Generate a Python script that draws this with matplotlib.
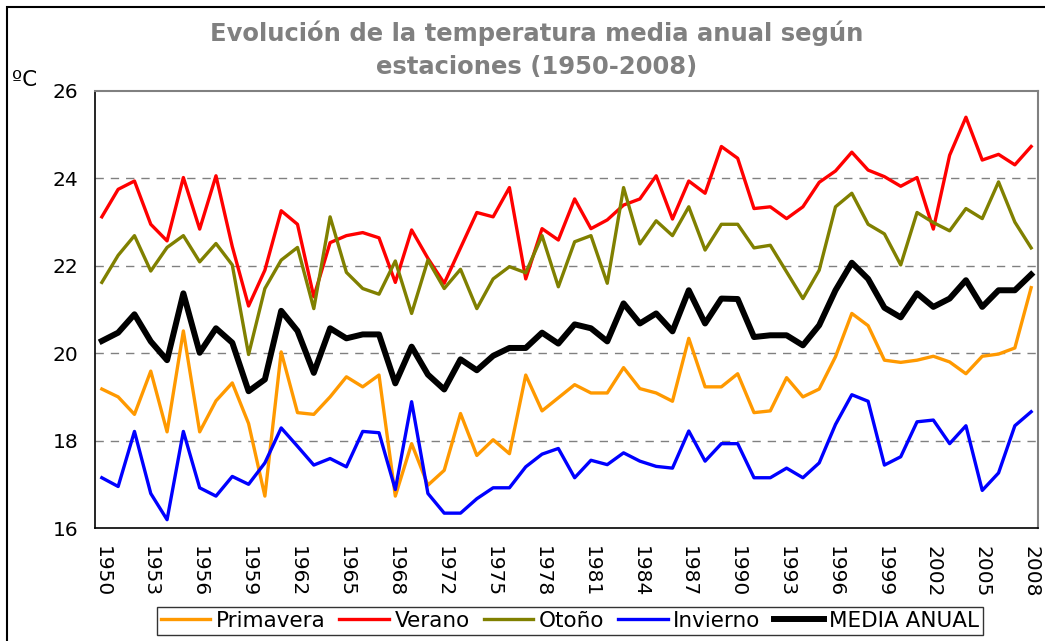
import matplotlib
matplotlib.use("Agg")
import matplotlib.pyplot as plt
from matplotlib.patches import Rectangle

# years (1971 missing in the source series -> 58 categories)
years = [y for y in range(1950, 2009) if y != 1971]

primavera = [19.18, 19.0, 18.6, 19.59, 18.2, 20.51, 18.2, 18.91, 19.32, 18.39,
             16.73, 20.03, 18.64, 18.6, 19.0, 19.46, 19.23, 19.5, 16.73,
             17.93, 16.98, 17.32, 18.62, 17.66, 18.02, 17.7, 19.5, 18.68, 18.98,
             19.28, 19.09, 19.09, 19.67, 19.19, 19.09, 18.9, 20.34, 19.23, 19.23,
             19.53, 18.64, 18.68, 19.44, 19.0, 19.18, 19.92, 20.91, 20.63, 19.84,
             19.79, 19.84, 19.93, 19.8, 19.53, 19.93, 19.98, 20.12, 21.5]
verano = [23.12, 23.75, 23.94, 22.95, 22.57, 24.02, 22.84, 24.06, 22.44, 21.08,
          21.9, 23.26, 22.95, 21.29, 22.53, 22.69, 22.76, 22.64, 21.62,
          22.82, 22.17, 21.6, 22.41, 23.22, 23.12, 23.79, 21.7, 22.85, 22.59,
          23.53, 22.85, 23.05, 23.39, 23.53, 24.06, 23.07, 23.94, 23.66, 24.73,
          24.46, 23.31, 23.35, 23.08, 23.35, 23.91, 24.17, 24.6, 24.19, 24.04,
          23.82, 24.02, 22.84, 24.53, 25.4, 24.42, 24.55, 24.31, 24.73]
otono = [21.62, 22.24, 22.69, 21.88, 22.42, 22.69, 22.09, 22.51, 22.02, 19.97,
         21.48, 22.13, 22.42, 21.02, 23.12, 21.85, 21.48, 21.35, 22.11,
         20.91, 22.13, 21.48, 21.92, 21.02, 21.7, 21.98, 21.84, 22.69, 21.52,
         22.55, 22.69, 21.6, 23.79, 22.5, 23.03, 22.69, 23.35, 22.36, 22.95,
         22.95, 22.41, 22.47, 21.86, 21.25, 21.9, 23.35, 23.66, 22.95, 22.73,
         22.02, 23.22, 22.99, 22.8, 23.31, 23.08, 23.92, 23.0, 22.41]
invierno = [17.15, 16.95, 18.21, 16.79, 16.19, 18.21, 16.92, 16.73, 17.18, 17.0,
            17.49, 18.29, 17.87, 17.44, 17.59, 17.4, 18.21, 18.18, 16.88,
            18.89, 16.79, 16.34, 16.34, 16.67, 16.92, 16.92, 17.4, 17.69, 17.82,
            17.15, 17.55, 17.45, 17.72, 17.53, 17.41, 17.37, 18.22, 17.53, 17.93,
            17.93, 17.15, 17.15, 17.37, 17.15, 17.49, 18.37, 19.05, 18.9, 17.44,
            17.63, 18.43, 18.47, 17.93, 18.34, 16.86, 17.26, 18.34, 18.66]
media = [20.28, 20.47, 20.89, 20.27, 19.84, 21.37, 20.01, 20.57, 20.24, 19.13,
         19.4, 20.97, 20.51, 19.55, 20.57, 20.34, 20.43, 20.43, 19.31,
         20.15, 19.51, 19.17, 19.86, 19.61, 19.94, 20.12, 20.12, 20.47, 20.22,
         20.66, 20.57, 20.27, 21.14, 20.68, 20.91, 20.5, 21.44, 20.68, 21.25,
         21.24, 20.37, 20.41, 20.41, 20.18, 20.64, 21.44, 22.07, 21.7, 21.04,
         20.82, 21.37, 21.06, 21.25, 21.67, 21.06, 21.44, 21.44, 21.8]

plt.rcParams['font.family'] = ['DejaVu Sans']

W, H = 1045, 641
fig = plt.figure(figsize=(W / 100, H / 100), dpi=100)
ax = fig.add_axes([95 / W, 1 - 528 / H, (1038 - 95) / W, (528 - 91) / H])

x = list(range(len(years)))
ax.plot(x, primavera, color='#FF9900', lw=2.4, label='Primavera')
ax.plot(x, verano, color='#FF0000', lw=2.4, label='Verano')
ax.plot(x, otono, color='#808000', lw=2.4, label='Otoño')
ax.plot(x, invierno, color='#0000FF', lw=2.4, label='Invierno')
ax.plot(x, media, color='black', lw=4.3, label='MEDIA ANUAL')

ax.set_ylim(16, 26)
ax.set_yticks([16, 18, 20, 22, 24, 26])
ax.set_xlim(-0.42, len(years) - 0.58)
ax.set_xticks(x[::3])
ax.set_xticklabels([str(y) for y in years[::3]], rotation=270, va='top', ha='center')
ax.tick_params(axis='both', length=0, labelsize=14.5)
ax.tick_params(axis='x', pad=13)
ax.tick_params(axis='y', pad=12)

for yv in [18, 20, 22, 24]:
    ax.axhline(yv, color='#808080', lw=1, ls=(0, (6, 5)), zorder=0)

for s in ['top', 'right']:
    ax.spines[s].set_color('#808080')
    ax.spines[s].set_linewidth(1.5)
for s in ['left', 'bottom']:
    ax.spines[s].set_color('black')
    ax.spines[s].set_linewidth(1.2)

fig.text(537 / W, 1 - 50 / H, 'Evolución de la temperatura media anual según\nestaciones (1950-2008)',
         ha='center', va='center', fontsize=17.5, fontweight='bold', color='#808080',
         linespacing=1.45)
fig.text(12 / W, 1 - 80 / H, 'ºC', ha='left', va='center', fontsize=15.5)

leg = ax.legend(loc='center', bbox_to_anchor=(570 / W, 1 - 621 / H), bbox_transform=fig.transFigure,
                ncol=5, fontsize=15.5, frameon=True, fancybox=False, edgecolor='black',
                handlelength=2.3, handletextpad=0.25, columnspacing=0.65, borderpad=0.2,
                borderaxespad=0)
leg.get_frame().set_linewidth(1.0)

fig.patches.append(Rectangle((7 / W, -0.1), 1.2, 1 - 7 / H + 0.1, transform=fig.transFigure,
                             fill=False, edgecolor='black', lw=1.5, clip_on=False))

fig.savefig('out.png', dpi=100)
